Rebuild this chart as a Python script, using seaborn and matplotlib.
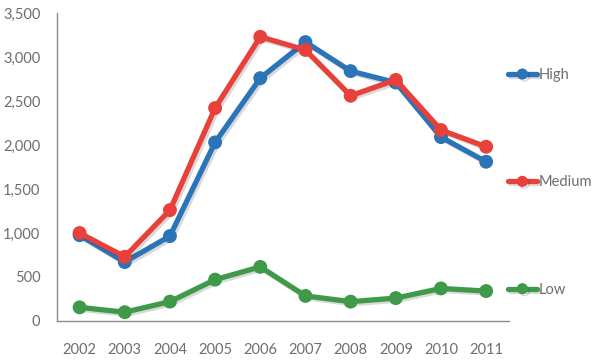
import matplotlib
matplotlib.use('Agg')
import matplotlib.pyplot as plt
import matplotlib.patheffects as pe
import seaborn as sns
import pandas as pd

years = [2002, 2003, 2004, 2005, 2006, 2007, 2008, 2009, 2010, 2011]
high = [975, 670, 965, 2030, 2760, 3170, 2840, 2710, 2090, 1810]
medium = [1000, 730, 1260, 2420, 3230, 3080, 2560, 2740, 2170, 1980]
low = [155, 100, 220, 470, 615, 285, 220, 260, 370, 340]
series = ['High', 'Medium', 'Low']
colors = ['#2b74b8', '#e8403b', '#3e9a48']

df = pd.DataFrame({
    'year': years * 3,
    'value': high + medium + low,
    'level': [s for s in series for _ in years],
})

sns.set_style('white')
plt.rcParams['font.family'] = ['Lato', 'DejaVu Sans']
grey = '#6d6d6d'
axis_grey = '#8c8c8c'

fig = plt.figure(figsize=(5.95, 3.62), dpi=100)
ax = fig.add_axes([0.0958, 0.1133, 0.7592, 0.8507])

shadow = [pe.SimpleLineShadow(offset=(1.5, -1.5), shadow_color='black', alpha=0.15), pe.Normal()]
sns.lineplot(data=df, x='year', y='value', hue='level', hue_order=series,
             palette=colors, marker='o', markersize=10, markeredgewidth=0,
             linewidth=3.8, ax=ax, legend=False)
for line in ax.lines:
    line.set_path_effects(shadow)

ax.set_xlim(2001.5, 2011.5)
ax.set_ylim(0, 3500)
ax.set_xticks(years)
ax.set_xticklabels([str(y) for y in years])
ax.set_xticks([y - 0.5 for y in years] + [2011.5], minor=True)
ax.set_yticks(range(0, 3501, 500))
ax.set_yticklabels(['{:,}'.format(v) for v in range(0, 3501, 500)])
ax.tick_params(axis='x', which='major', length=0, pad=16, labelsize=10.5, colors=grey)
ax.tick_params(axis='x', which='minor', length=6, width=1, color=axis_grey, direction='out')
ax.tick_params(axis='y', length=6, width=1, color=axis_grey, pad=6, labelsize=10.5, labelcolor=grey, direction='out')
for s in ['top', 'right']:
    ax.spines[s].set_visible(False)
for s in ['left', 'bottom']:
    ax.spines[s].set_color(axis_grey)
    ax.spines[s].set_linewidth(1)
ax.set_xlabel('')
ax.set_ylabel('')
ax.grid(False)

handles = [plt.Line2D([], [], color=c, marker='o', markersize=7, linewidth=3.8,
                      path_effects=shadow) for c in colors]
leg = ax.legend(handles, series, loc='upper left', bbox_to_anchor=(0.985, 0.84),
                frameon=False, fontsize=10.5, handlelength=2.0, handletextpad=0.1,
                labelspacing=6.4, borderaxespad=0)
for t in leg.get_texts():
    t.set_color(grey)

fig.savefig('out.png', dpi=100)
